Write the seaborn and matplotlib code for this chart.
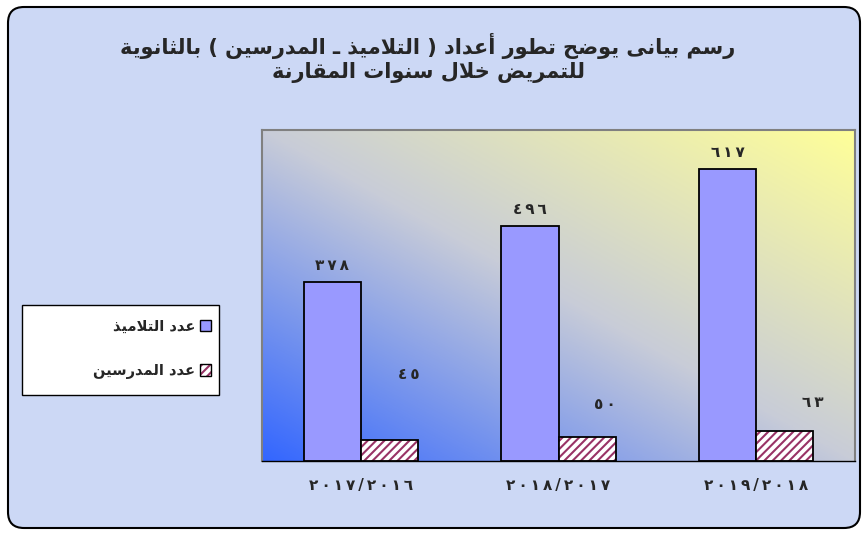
import matplotlib
matplotlib.use("Agg")
import matplotlib.pyplot as plt
import numpy as np
import pandas as pd
import seaborn as sns
from matplotlib.colors import LinearSegmentedColormap
from matplotlib.patches import FancyBboxPatch, Patch, Rectangle
from matplotlib.transforms import IdentityTransform

# Chart data
title_lines = ["رسم بيانى يوضح تطور أعداد ( التلاميذ ـ المدرسين ) بالثانوية",
               "للتمريض خلال سنوات المقارنة"]
years = ["٢٠١٧/٢٠١٦", "٢٠١٨/٢٠١٧", "٢٠١٩/٢٠١٨"]
groups = ["عدد التلاميذ", "عدد المدرسين"]
students = [378, 496, 617]
teachers = [45, 50, 63]

STUDENT_COLOR = "#9999FF"
HATCH_COLOR = "#993366"

# Arabic contextual forms (matplotlib has no text shaping)
ISO = {"ا": 0xFE8D, "أ": 0xFE83, "ة": 0xFE93, "د": 0xFEA9, "ذ": 0xFEAB,
       "ر": 0xFEAD, "و": 0xFEED, "ى": 0xFEEF,
       "ب": 0xFE8F, "ت": 0xFE95, "ث": 0xFE99, "ح": 0xFEA1, "خ": 0xFEA5,
       "س": 0xFEB1, "ض": 0xFEBD, "ط": 0xFEC1, "ع": 0xFEC9, "ق": 0xFED5,
       "ل": 0xFEDD, "م": 0xFEE1, "ن": 0xFEE5, "ي": 0xFEF1}
RIGHT_ONLY = set("اأةدذروى")
LAM_ALEF = {"ا": 0xFEFB, "أ": 0xFEF7}


def shape(text):
    out = []
    i = 0
    while i < len(text):
        c = text[i]
        if c not in ISO:
            out.append(c)
            i += 1
            continue
        prev = text[i - 1] if i > 0 else ""
        joins_prev = prev in ISO and prev not in RIGHT_ONLY
        if c == "ل" and i + 1 < len(text) and text[i + 1] in LAM_ALEF:
            out.append(chr(LAM_ALEF[text[i + 1]] + (1 if joins_prev else 0)))
            i += 2
            continue
        nxt = text[i + 1] if i + 1 < len(text) else ""
        joins_next = c not in RIGHT_ONLY and nxt in ISO
        if joins_prev and joins_next:
            k = 3
        elif joins_prev:
            k = 1
        elif joins_next:
            k = 2
        else:
            k = 0
        out.append(chr(ISO[c] + k))
        i += 1
    mirror = {"(": ")", ")": "("}
    return "".join(mirror.get(c, c) for c in reversed(out))


def arabic_digits(v):
    return str(v).translate(str.maketrans("0123456789", "٠١٢٣٤٥٦٧٨٩"))


def spaced(s):
    # wide letter spacing, like the original chart font
    return "\u2009".join(s)


df = pd.DataFrame({
    "year": years * 2,
    "count": students + teachers,
    "group": [groups[0]] * 3 + [groups[1]] * 3,
})

sns.set_style("white")
plt.rcParams["font.family"] = ["DejaVu Sans"]
plt.rcParams["hatch.linewidth"] = 1.5

fig = plt.figure(figsize=(8.66, 5.35), dpi=100)
fig.patch.set_facecolor("white")

# rounded page frame
frame = FancyBboxPatch((8, 7), 852, 521, boxstyle="round,pad=0,rounding_size=16",
                       transform=IdentityTransform(), fc="#CCD8F5", ec="black",
                       lw=1.5, zorder=-1)
fig.patches.append(frame)

ax = fig.add_axes([262 / 866, 74 / 535, 593 / 866, 331 / 535])

# gradient plot area
cmap = LinearSegmentedColormap.from_list("bg", ["#3366FF", "#C8CCD8", "#FFFF99"])
g = np.linspace(0, 1, 256)
xx, yy = np.meshgrid(g, g)
ax.imshow((xx + yy) / 2, extent=(-0.5, 2.5, 0, 700), origin="lower",
          aspect="auto", cmap=cmap, zorder=0)

sns.barplot(data=df, x="year", y="count", hue="group",
            palette=[STUDENT_COLOR, "white"], saturation=1, width=0.58,
            edgecolor="black", linewidth=1.3, legend=False, ax=ax, zorder=2)

for p in ax.containers[1]:
    p.set_hatch("////")
    p.set_edgecolor(HATCH_COLOR)
    p.set_linewidth(0)
    ax.add_patch(Rectangle(p.get_xy(), p.get_width(), p.get_height(),
                           fill=False, ec="black", lw=1.3, zorder=3))

# value labels
for p, v in zip(ax.containers[0], students):
    ax.annotate(spaced(arabic_digits(v)), (p.get_x() + p.get_width() / 2, v),
                xytext=(0, 12), textcoords="offset points", ha="center",
                va="center", fontsize=11, fontweight="bold")
teacher_offsets = [(14, 47), (13, 24), (20, 21)]
for p, v, off in zip(ax.containers[1], teachers, teacher_offsets):
    ax.annotate(spaced(arabic_digits(v)), (p.get_x() + p.get_width() / 2, v),
                xytext=off, textcoords="offset points", ha="center",
                va="center", fontsize=11, fontweight="bold")

ax.set_xlim(-0.5, 2.5)
ax.set_ylim(0, 700)
ax.set_yticks([])
ax.set_xlabel("")
ax.set_ylabel("")
ax.set_xticks(range(len(years)))
ax.set_xticklabels([spaced(y) for y in years], fontsize=11, fontweight="bold")
ax.set_xticks([-0.5, 0.5, 1.5, 2.5], minor=True)
ax.tick_params(axis="x", which="major", length=0, pad=12)
ax.tick_params(axis="x", which="minor", length=6, width=1, color="black",
               direction="out")
for s in ["top", "right", "left"]:
    ax.spines[s].set_color("#808080")
    ax.spines[s].set_linewidth(1.5)
ax.spines["bottom"].set_color("black")
ax.spines["bottom"].set_linewidth(1)
ax.spines["bottom"].set_zorder(4)

# title
fig.text(428 / 866, 1 - 58 / 535, "\n".join(shape(t) for t in title_lines),
         ha="center", va="center", fontsize=15, fontweight="bold",
         linespacing=1.15)

# legend box
fig.patches.append(Rectangle((22, 535 - 395), 197, 90, transform=IdentityTransform(),
                             fc="white", ec="black", lw=1))
h1 = Patch(fc=STUDENT_COLOR, ec="black", lw=1)
h2a = Patch(fc="white", ec=HATCH_COLOR, hatch="////", lw=0)
h2b = Patch(fc="none", ec="black", lw=1)
fig.legend([h1, (h2a, h2b)], [shape(t) for t in groups], loc="center right",
           bbox_to_anchor=(217 / 866, 1 - 349 / 535), markerfirst=False,
           frameon=False, handlelength=0.8, handleheight=0.8,
           handletextpad=0.3, labelspacing=2.0,
           prop={"weight": "bold", "size": 10.5}, borderaxespad=0)

fig.savefig("out.png", dpi=100)
